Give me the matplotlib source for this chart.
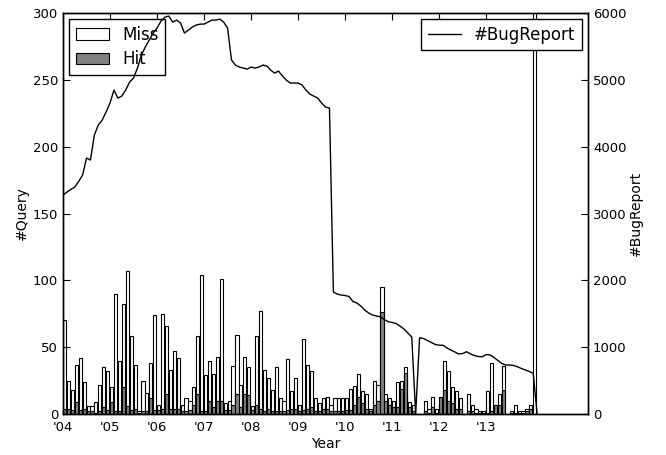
import matplotlib
matplotlib.use("Agg")
import matplotlib.pyplot as plt
import numpy as np

# monthly counts from Jan 2004
miss = [70, 25, 18, 37, 42, 24, 6, 6, 9, 22, 35, 32,
        20, 90, 40, 82, 107, 58, 37, 2, 25, 16, 38, 74,
        7, 75, 66, 33, 47, 42, 7, 12, 10, 20, 58, 104,
        29, 40, 30, 43, 101, 8, 10, 36, 59, 22, 43, 35,
        6, 58, 77, 33, 27, 18, 35, 12, 10, 41, 17, 27,
        7, 56, 37, 32, 12, 8, 12, 13, 7, 12, 12, 12,
        12, 19, 21, 30, 17, 15, 4, 25, 22, 95, 15, 12,
        10, 24, 25, 35, 9, 7, 0, 0, 10, 4, 13, 4,
        13, 40, 32, 20, 17, 12, 0, 15, 7, 4, 2.5, 2,
        17, 38, 7, 15, 36, 0, 2.5, 7, 2.5, 2, 3.5, 7,
        330]
hit = [4, 4, 3, 9, 3, 4, 2, 2, 1, 2, 5, 3,
       9, 2, 2, 20, 6, 3, 4, 0.5, 2, 2, 12, 3,
       3, 4, 15, 4, 4, 4, 2, 2, 3, 7, 15, 2.5,
       2.5, 10, 5, 10, 10, 3, 3, 7, 15, 5, 15, 14,
       3, 7, 4, 2, 4, 2.5, 2, 2, 2.5, 3, 3.5, 3.5,
       2, 3, 4, 5, 2, 2, 3.5, 3.5, 2, 2, 2, 2,
       3, 3, 7, 13, 8, 4, 2, 7, 10, 76, 10, 7,
       5, 5, 19, 31, 5, 2, 0, 0, 2, 1, 5, 1,
       13, 18, 10, 8, 4, 4, 0, 2, 2, 1, 1, 1,
       1, 2, 7, 7, 18, 0, 1, 1, 1, 1, 2, 3.5,
       0]
bugreport = [3276, 3320, 3360, 3396, 3480, 3575, 3830, 3800, 4174, 4323, 4398, 4520,
             4653, 4847, 4727, 4757, 4847, 4967, 5027, 5176, 5371, 5490, 5595, 5700,
             5775, 5879, 5939, 5954, 5864, 5894, 5849, 5700, 5745, 5790, 5819, 5834,
             5834, 5864, 5894, 5894, 5909, 5864, 5775, 5296, 5221, 5191, 5176, 5161,
             5191, 5176, 5191, 5221, 5206, 5146, 5101, 5131, 5057, 4997, 4952, 4952,
             4952, 4922, 4847, 4787, 4757, 4727, 4653, 4593, 4578, 1825, 1795, 1780,
             1773, 1758, 1683, 1661, 1616, 1556, 1511, 1481, 1466, 1456, 1414, 1381,
             1369, 1354, 1316, 1272, 1212, 1152, 0, 1140, 1130, 1100, 1070, 1040,
             1029, 1028, 987, 957, 928, 898, 905, 932, 898, 875, 860, 857,
             890, 883, 845, 800, 755, 733, 733, 726, 706, 681, 658, 636,
             609, 0]
year_labels = ["'04", "'05", "'06", "'07", "'08", "'09", "'10", "'11", "'12", "'13"]

months = np.arange(len(miss))

fig = plt.figure(figsize=(6.66, 4.55), dpi=100, facecolor='white')
ax = fig.add_axes([0.0946, 0.0901, 0.7884, 0.8813])

ax.bar(months, miss, width=0.8, align='edge', color='white', edgecolor='black', linewidth=0.8, label='Miss')
ax.bar(months, hit, width=0.8, align='edge', color='0.5', edgecolor='black', linewidth=0.8, label='Hit')
ax.set_ylim(0, 300)
ax.set_xlim(0, 134)
ax.set_xticks(np.arange(0, 120, 12))
ax.set_xticklabels(year_labels)
ax.set_xlabel('Year', fontsize=10, labelpad=2)
ax.set_ylabel('#Query', fontsize=10, labelpad=3)
ax.tick_params(direction='in', top=True, labelsize=9.5, length=5)
ax.tick_params(axis='x', pad=5)
ax.legend(loc='upper left', fontsize=12, fancybox=False, edgecolor='black',
          framealpha=1, handlelength=2, borderaxespad=0.35, labelspacing=0.4)

ax2 = ax.twinx()
ax2.plot(np.arange(len(bugreport)), bugreport, color='black', linewidth=1, label='#BugReport')
ax2.set_ylim(0, 6000)
ax2.set_ylabel('#BugReport', fontsize=10, labelpad=2)
ax2.tick_params(direction='in', labelsize=9.5, length=5)
ax2.legend(loc='upper right', fontsize=12, fancybox=False, edgecolor='black',
           framealpha=1, handlelength=2, borderaxespad=0.35)

for a in (ax, ax2):
    for s in a.spines.values():
        s.set_linewidth(1)

fig.savefig('out.png', dpi=100, facecolor='white')
